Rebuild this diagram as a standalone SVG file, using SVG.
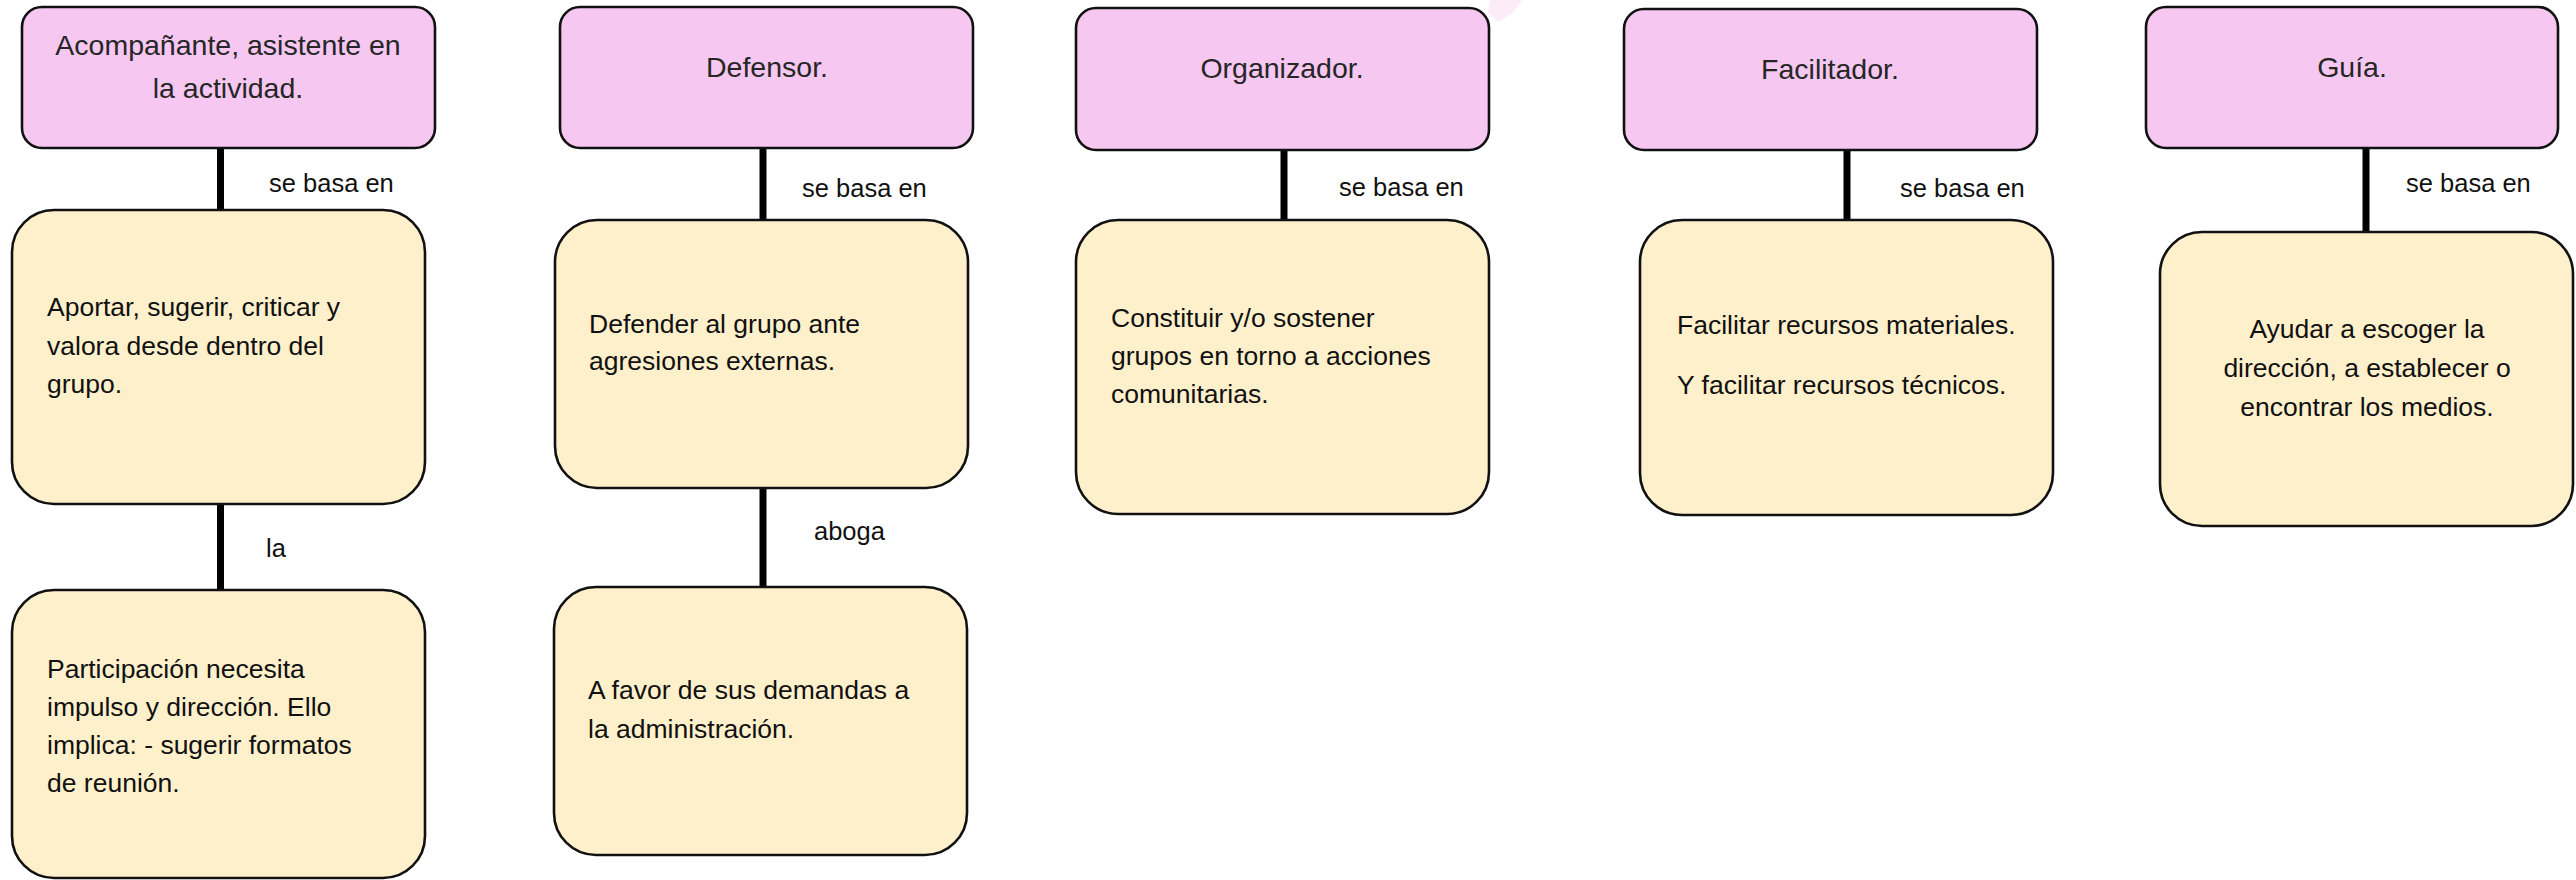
<svg xmlns="http://www.w3.org/2000/svg" width="2576" height="880" viewBox="0 0 2576 880">
<style>
  .role { fill: #F6C8F1; stroke: #111; stroke-width: 2.6; }
  .desc { fill: #FFF0CC; stroke: #111; stroke-width: 2.6; }
  .hdr { font-family: "Liberation Sans", Arial, sans-serif; font-size: 28.5px; fill: #262626; text-anchor: middle; }
  .body { font-family: "Liberation Sans", Arial, sans-serif; font-size: 26.5px; fill: #111; }
  .mid { text-anchor: middle; }
  .lbl { font-family: "Liberation Sans", Arial, sans-serif; font-size: 25.5px; fill: #111; }
  .conn { stroke: #000; stroke-width: 7; fill: none; }
</style>
<rect width="2576" height="880" fill="#fff"/>
<path d="M1490,0 L1522,0 L1512,14 L1498,22 L1488,12 Z" fill="#F6C8F1" opacity="0.35"/>

<g id="connectors">
  <line class="conn" x1="220.5" y1="148" x2="220.5" y2="210"/>
  <line class="conn" x1="220.5" y1="504" x2="220.5" y2="590"/>
  <line class="conn" x1="763" y1="148" x2="763" y2="220"/>
  <line class="conn" x1="763" y1="488" x2="763" y2="587"/>
  <line class="conn" x1="1284" y1="150" x2="1284" y2="220"/>
  <line class="conn" x1="1847" y1="150" x2="1847" y2="220"/>
  <line class="conn" x1="2366" y1="148" x2="2366" y2="232"/>
  <text class="lbl" x="269" y="192">se basa en</text>
  <text class="lbl" x="266" y="557">la</text>
  <text class="lbl" x="802" y="197">se basa en</text>
  <text class="lbl" x="814" y="540">aboga</text>
  <text class="lbl" x="1339" y="196">se basa en</text>
  <text class="lbl" x="1900" y="197">se basa en</text>
  <text class="lbl" x="2406" y="192">se basa en</text>
</g>

<g id="acompanante">
  <rect class="role" x="22" y="7" width="413" height="141" rx="20"/>
  <text class="hdr" x="228" y="55">Acompañante, asistente en</text>
  <text class="hdr" x="228" y="98">la actividad.</text>
</g>
<g id="aportar">
  <rect class="desc" x="12" y="210" width="413" height="294" rx="42"/>
  <text class="body" x="47" y="316">Aportar, sugerir, criticar y</text>
  <text class="body" x="47" y="354.5">valora desde dentro del</text>
  <text class="body" x="47" y="393">grupo.</text>
</g>
<g id="participacion">
  <rect class="desc" x="12" y="590" width="413" height="288" rx="42"/>
  <text class="body" x="47" y="678">Participación necesita</text>
  <text class="body" x="47" y="716">impulso y dirección. Ello</text>
  <text class="body" x="47" y="754">implica: - sugerir formatos</text>
  <text class="body" x="47" y="792">de reunión.</text>
</g>

<g id="defensor">
  <rect class="role" x="560" y="7" width="413" height="141" rx="20"/>
  <text class="hdr" x="767" y="77">Defensor.</text>
</g>
<g id="defender">
  <rect class="desc" x="555" y="220" width="413" height="268" rx="42"/>
  <text class="body" x="589" y="333">Defender al grupo ante</text>
  <text class="body" x="589" y="370">agresiones externas.</text>
</g>
<g id="afavor">
  <rect class="desc" x="554" y="587" width="413" height="268" rx="42"/>
  <text class="body" x="588" y="699">A favor de sus demandas a</text>
  <text class="body" x="588" y="738">la administración.</text>
</g>

<g id="organizador">
  <rect class="role" x="1076" y="8" width="413" height="142" rx="20"/>
  <text class="hdr" x="1282" y="78">Organizador.</text>
</g>
<g id="constituir">
  <rect class="desc" x="1076" y="220" width="413" height="294" rx="42"/>
  <text class="body" x="1111" y="327">Constituir y/o sostener</text>
  <text class="body" x="1111" y="365">grupos en torno a acciones</text>
  <text class="body" x="1111" y="403">comunitarias.</text>
</g>

<g id="facilitador">
  <rect class="role" x="1624" y="9" width="413" height="141" rx="20"/>
  <text class="hdr" x="1830" y="79">Facilitador.</text>
</g>
<g id="facilitar">
  <rect class="desc" x="1640" y="220" width="413" height="295" rx="42"/>
  <text class="body" x="1677" y="334">Facilitar recursos materiales.</text>
  <text class="body" x="1677" y="394">Y facilitar recursos técnicos.</text>
</g>

<g id="guia">
  <rect class="role" x="2146" y="7" width="412" height="141" rx="20"/>
  <text class="hdr" x="2352" y="77">Guía.</text>
</g>
<g id="ayudar">
  <rect class="desc" x="2160" y="232" width="413" height="294" rx="42"/>
  <text class="body mid" x="2367" y="338">Ayudar a escoger la</text>
  <text class="body mid" x="2367" y="377">dirección, a establecer o</text>
  <text class="body mid" x="2367" y="416">encontrar los medios.</text>
</g>
</svg>
